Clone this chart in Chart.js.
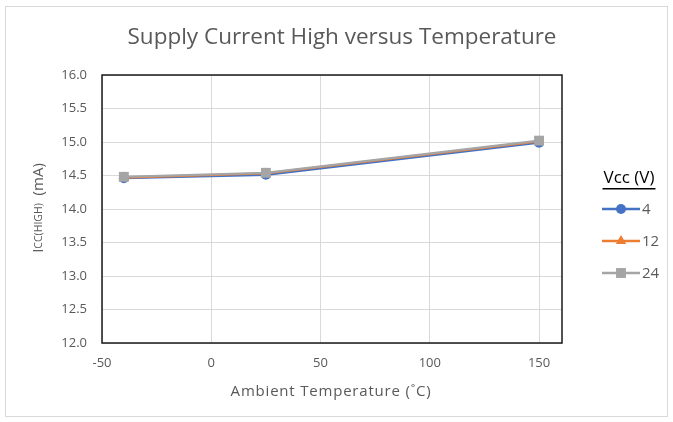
<!DOCTYPE html>
<html>
<head>
<meta charset="utf-8">
<script src="https://cdn.jsdelivr.net/npm/chart.js@4"></script>
<style>
  body { margin: 0; background: #fff; }
  #box { position: absolute; left: 0; top: 0; width: 673px; height: 422px; }
</style>
</head>
<body>
<div id="box"><canvas id="myChart" width="673" height="422"></canvas></div>
<script>
// temperatures (°C) and supply current (mA) per Vcc
var temps = [-40, 25, 150];
var vcc4 = [14.46, 14.51, 14.99];
var vcc12 = [14.47, 14.53, 15.01];
var vcc24 = [14.48, 14.54, 15.02];
var seriesNames = ['4', '12', '24'];
var xTicks = [-50, 0, 50, 100, 150];

var font = '"Open Sans", sans-serif';
var grey = '#595959';

function toPoints(vals) {
  var pts = [];
  for (var i = 0; i < temps.length; i++) {
    pts.push({ x: temps[i], y: vals[i] });
  }
  return pts;
}

// frame, titles and legend drawn on the canvas
var extras = {
  id: 'extras',
  beforeDraw: function(chart) {
    var c = chart.ctx;
    c.save();
    c.fillStyle = '#fff';
    c.fillRect(0, 0, chart.width, chart.height);
    c.strokeStyle = '#d9d9d9';
    c.lineWidth = 1;
    c.strokeRect(5.5, 6.5, 662, 410);
    c.restore();
  },
  afterDraw: function(chart) {
    var c = chart.ctx;
    var a = chart.chartArea;
    c.save();
    // plot border
    c.strokeStyle = '#1a1a1a';
    c.lineWidth = 1.5;
    c.strokeRect(a.left, a.top, a.right - a.left, a.bottom - a.top);

    // chart title
    c.fillStyle = grey;
    c.textAlign = 'center';
    c.textBaseline = 'middle';
    c.font = '22.5px ' + font;
    c.fillText('Supply Current High versus Temperature', 342, 38);

    // x axis title
    c.font = '15px ' + font;
    c.letterSpacing = '0.8px';
    c.fillText('Ambient Temperature (˚C)', 331, 392);
    c.letterSpacing = '0px';

    // y axis title with small-caps subscript
    c.translate(39, 208);
    c.rotate(-Math.PI / 2);
    var parts = [['I', '15px '], ['CC(HIGH)', '10.5px '], ['  (mA)', '15px ']];
    var total = 0;
    for (var i = 0; i < parts.length; i++) {
      c.font = parts[i][1] + font;
      total += c.measureText(parts[i][0]).width;
    }
    var px = -total / 2;
    c.textAlign = 'left';
    for (var i = 0; i < parts.length; i++) {
      c.font = parts[i][1] + font;
      c.fillText(parts[i][0], px, 0);
      px += c.measureText(parts[i][0]).width;
    }
    c.restore();

    // legend
    c.save();
    c.fillStyle = '#000';
    c.textAlign = 'center';
    c.textBaseline = 'middle';
    c.font = '17px ' + font;
    c.fillText('Vcc (V)', 629, 178);
    var tw = c.measureText('Vcc (V)').width;
    c.fillRect(629 - tw / 2 - 1, 188, tw + 2, 1.5);
    var ys = [209, 241, 273];
    var sets = chart.data.datasets;
    for (var i = 0; i < sets.length; i++) {
      var ds = sets[i];
      c.strokeStyle = ds.borderColor;
      c.lineWidth = 2.5;
      c.beginPath();
      c.moveTo(602, ys[i]);
      c.lineTo(640, ys[i]);
      c.stroke();
      c.fillStyle = ds.backgroundColor;
      Chart.helpers.drawPoint(c, { pointStyle: ds.pointStyle, radius: ds.pointRadius, borderWidth: 0 }, 621, ys[i]);
      c.fillStyle = grey;
      c.textAlign = 'left';
      c.font = '15px ' + font;
      c.fillText(seriesNames[i], 642, ys[i] + 1);
    }
    c.restore();
  }
};

var ctx = document.getElementById('myChart').getContext('2d');
var chart = new Chart(ctx, {
  type: 'line',
  data: {
    datasets: [{
      label: seriesNames[0],
      data: toPoints(vcc4),
      borderColor: '#4472C4',
      backgroundColor: '#4472C4',
      pointStyle: 'circle',
      pointRadius: 5,
      borderWidth: 2.25,
      pointBorderWidth: 0,
      order: 2
    }, {
      label: seriesNames[1],
      data: toPoints(vcc12),
      borderColor: '#ED7D31',
      backgroundColor: '#ED7D31',
      pointStyle: 'triangle',
      pointRadius: 6,
      borderWidth: 2.25,
      pointBorderWidth: 0,
      order: 1
    }, {
      label: seriesNames[2],
      data: toPoints(vcc24),
      borderColor: '#A5A5A5',
      backgroundColor: '#A5A5A5',
      pointStyle: 'rect',
      pointRadius: 7,
      borderWidth: 2.25,
      pointBorderWidth: 0,
      order: 0
    }]
  },
  options: {
    responsive: false,
    animation: false,
    layout: { padding: { left: 52, top: 75, right: 111, bottom: 49 } },
    plugins: {
      legend: { display: false },
      title: { display: false },
      tooltip: { enabled: false }
    },
    scales: {
      x: {
        type: 'linear',
        min: -50,
        max: 160.5,
        afterBuildTicks: function(scale) {
          scale.ticks = xTicks.map(function(v) { return { value: v }; });
        },
        afterFit: function(scale) { scale.height = 30; },
        grid: { color: '#d9d9d9', drawTicks: false },
        border: { display: false },
        ticks: { color: grey, font: { family: font, size: 13 }, padding: 12, maxRotation: 0 }
      },
      y: {
        min: 12,
        max: 16,
        afterFit: function(scale) { scale.width = 50; },
        grid: { color: '#d9d9d9', drawTicks: false },
        border: { display: false },
        ticks: {
          stepSize: 0.5,
          color: grey,
          font: { family: font, size: 13 },
          padding: 15,
          callback: function(v) { return v.toFixed(1); }
        }
      }
    }
  },
  plugins: [extras]
});
</script>
</body>
</html>
